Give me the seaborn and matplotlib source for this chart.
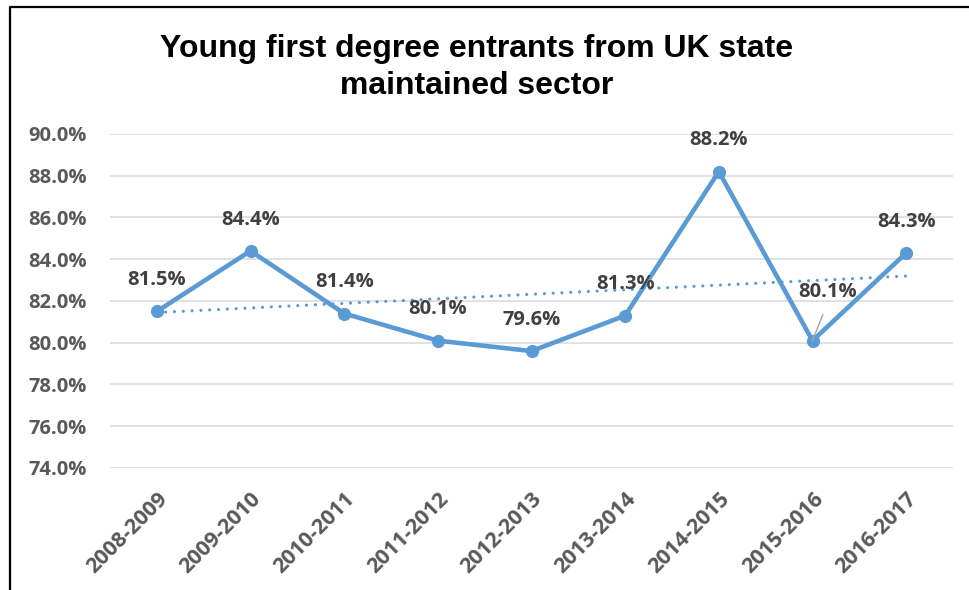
import numpy as np
import pandas as pd
import matplotlib
matplotlib.use("Agg")
import matplotlib.pyplot as plt
from matplotlib.lines import Line2D
from matplotlib.ticker import FuncFormatter
import seaborn as sns

# Academic years and share of young entrants from state schools (%)
years = ["2008-2009", "2009-2010", "2010-2011", "2011-2012", "2012-2013",
         "2013-2014", "2014-2015", "2015-2016", "2016-2017"]
share = [81.5, 84.4, 81.4, 80.1, 79.6, 81.3, 88.2, 80.1, 84.3]
y_ticks = [74.0, 76.0, 78.0, 80.0, 82.0, 84.0, 86.0, 88.0, 90.0]

title = "Young first degree entrants from UK state\nmaintained sector"

BLUE = "#5B9BD5"
GREY_TXT = "#595959"
LABEL_TXT = "#404040"
GRID = "#D9D9D9"
TITLE_FONT = ["Liberation Sans", "DejaVu Sans"]
BODY_FONT = ["Open Sans", "DejaVu Sans"]

sns.set_theme(style="white")
plt.rcParams["font.family"] = BODY_FONT

df = pd.DataFrame({"year": years, "share": share})
df["pos"] = np.arange(len(years))

fig = plt.figure(figsize=(9.7, 5.9), dpi=100)
ax = fig.add_axes([0.1134, 0.2068, 0.8691, 0.5661])

# gridlines behind everything
for t in y_ticks:
    ax.axhline(t, color=GRID, lw=1.1, zorder=0)

# main series
sns.lineplot(data=df, x="pos", y="share", ax=ax, color=BLUE, lw=3.3,
             marker="o", markersize=9.5, markeredgewidth=0,
             markerfacecolor=BLUE, zorder=3, legend=False)

# linear trendline (dotted)
sns.regplot(data=df, x="pos", y="share", ax=ax, scatter=False, ci=None,
            truncate=True,
            line_kws=dict(color=BLUE, lw=2.3, linestyle=(0, (0.01, 2.75)),
                          dash_capstyle="round", zorder=2))

# value labels
for i, v in enumerate(share):
    txt = f"{v:.1f}%"
    if i == 7:
        ax.annotate(txt, xy=(i, v), xytext=(11, 35), textcoords="offset points",
                    ha="center", va="center", fontsize=14.5, fontweight="bold",
                    color=LABEL_TXT, zorder=5, family=BODY_FONT,
                    arrowprops=dict(arrowstyle="-", color="#A6A6A6", lw=1,
                                    relpos=(0.5, 0.0), shrinkA=7, shrinkB=0))
    else:
        ax.annotate(txt, xy=(i, v), xytext=(0, 22.5), textcoords="offset points",
                    ha="center", va="center", fontsize=14.5, fontweight="bold",
                    color=LABEL_TXT, zorder=5, family=BODY_FONT)

ax.set_xlim(-0.5, len(years) - 0.5)
ax.set_ylim(74, 90)
ax.set_yticks(y_ticks)
ax.yaxis.set_major_formatter(FuncFormatter(lambda v, _: f"{v:.1f}%"))
ax.set_xticks(df["pos"])
ax.set_xticklabels(years)
ax.set_xlabel("")
ax.set_ylabel("")
for s in ax.spines.values():
    s.set_visible(False)

ax.tick_params(axis="y", length=0, pad=16.5, labelsize=14.5, labelcolor=GREY_TXT)
ax.tick_params(axis="x", length=0, pad=15, labelsize=15.5, labelcolor=GREY_TXT)
for lab in ax.get_yticklabels():
    lab.set_fontweight("bold")
    lab.set_family(BODY_FONT)
for lab in ax.get_xticklabels():
    lab.set_fontweight("bold")
    lab.set_family(BODY_FONT)
    lab.set_rotation(45)
    lab.set_ha("right")
    lab.set_va("top")
    lab.set_rotation_mode("anchor")

fig.text(477 / 970, 1 - 34 / 590, title, ha="center", va="top",
         fontsize=23, fontweight="bold", color="black",
         family=TITLE_FONT, linespacing=1.3)

# chart frame (left and top edges)
fig.add_artist(Line2D([10 / 970, 10 / 970, 1.0], [0.0, 1 - 7 / 590, 1 - 7 / 590],
                      transform=fig.transFigure, color="black", lw=1.6))

fig.savefig("out.png", dpi=100, facecolor="white")
